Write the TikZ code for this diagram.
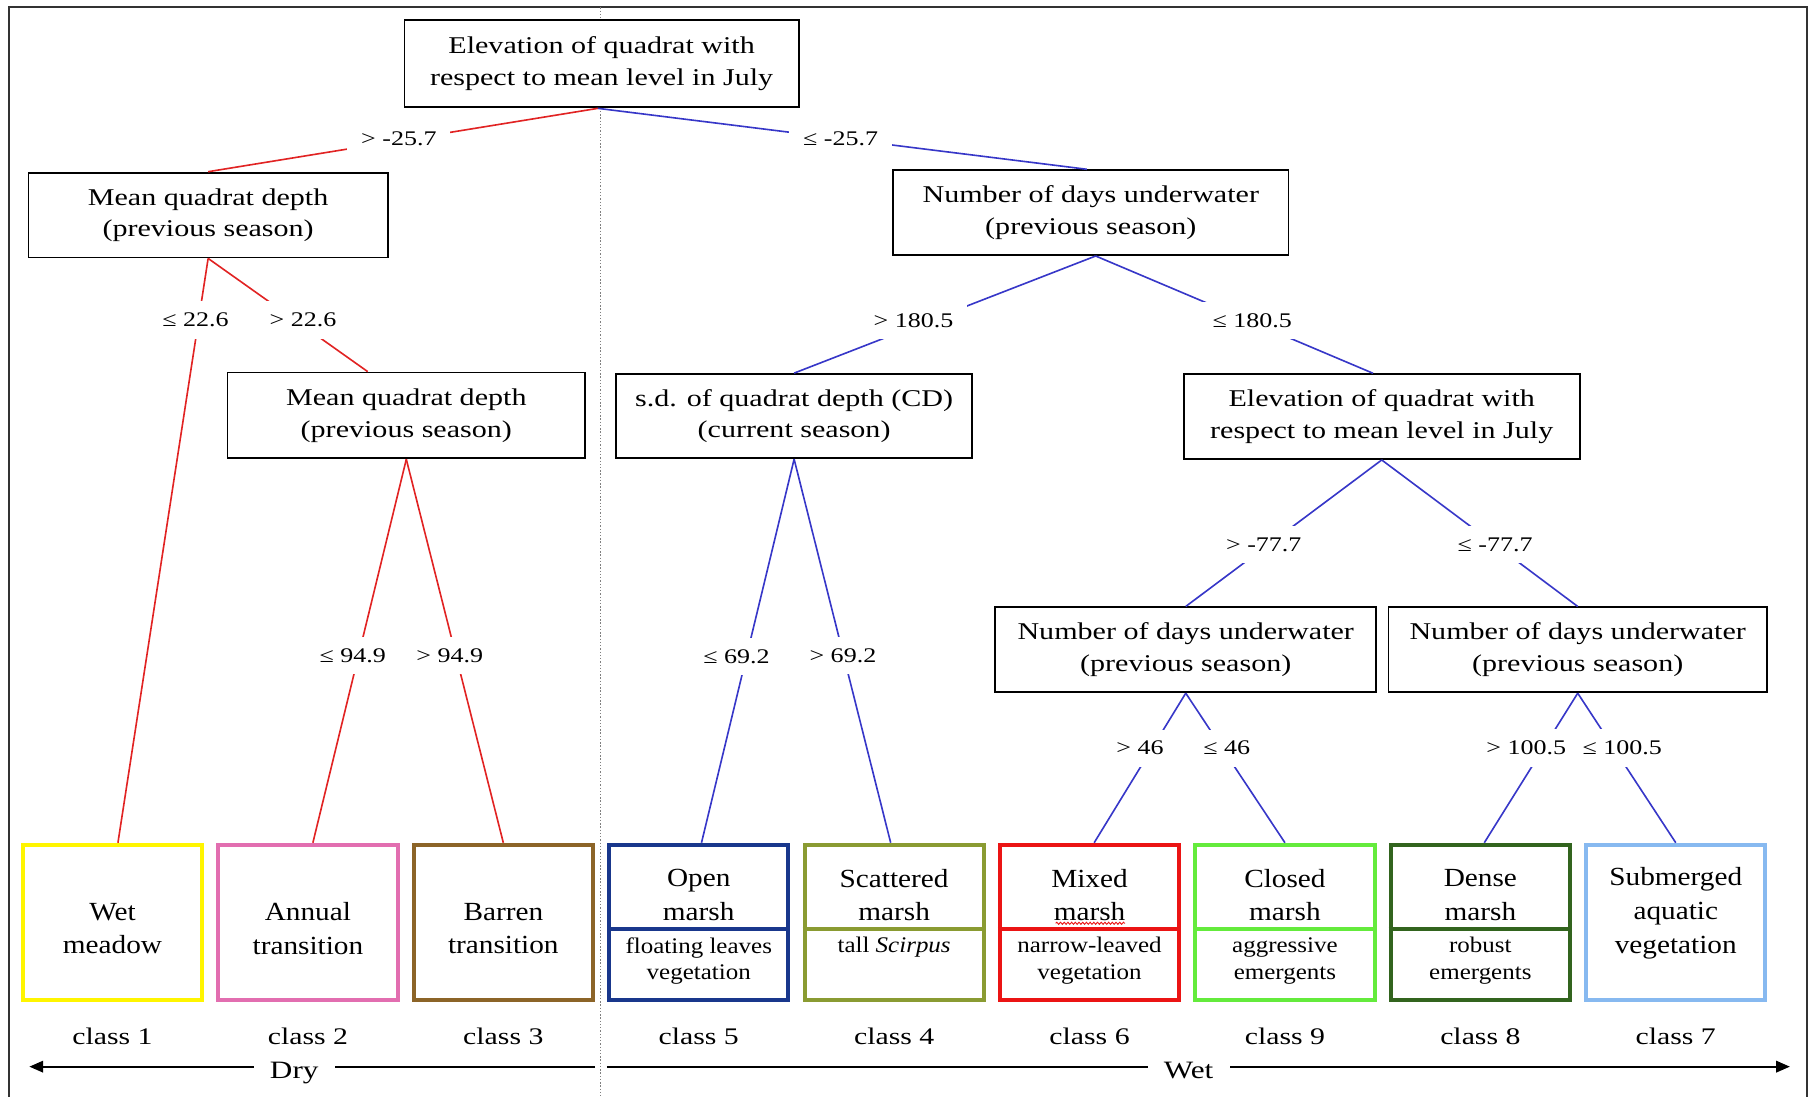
\documentclass[tikz,border=0pt]{standalone}
\usepackage{fontspec}
\setmainfont{Liberation Serif}
\newfontfamily\nf{Liberation Serif}[FakeStretch=1.25]
\newfontfamily\lf{Liberation Serif}[FakeStretch=1.12]
\usetikzlibrary{arrows.meta,decorations.pathmorphing}
\definecolor{redline}{RGB}{225,35,35}
\definecolor{blueline}{RGB}{55,55,200}
\definecolor{cYellow}{RGB}{255,245,0}
\definecolor{cPink}{RGB}{226,110,176}
\definecolor{cBrown}{RGB}{140,100,40}
\definecolor{cNavy}{RGB}{25,55,140}
\definecolor{cOlive}{RGB}{138,155,50}
\definecolor{cRed}{RGB}{235,20,20}
\definecolor{cGreen}{RGB}{100,235,60}
\definecolor{cDkGreen}{RGB}{50,100,30}
\definecolor{cLtBlue}{RGB}{135,185,240}
\tikzset{
 qbox/.style={draw=black, line width=0.8pt, fill=white, align=center, inner sep=0pt, font=\fontsize{10.4}{13.7}\nf},
 leafbox/.style={draw=#1, line width=1.75pt, minimum width=77.5pt, minimum height=67pt, inner sep=0pt},
 leaftxt/.style={align=center, inner sep=0pt, font=\fontsize{11.3}{14.6}\lf},
 subtxt/.style={align=center, inner sep=0pt, font=\fontsize{9.65}{11.5}\lf},
 divider/.style={draw=#1, line width=1.75pt},
 rcon/.style={draw=redline, line width=0.7pt},
 bcon/.style={draw=blueline, line width=0.7pt},
 cond/.style={fill=white, inner xsep=6pt, inner ysep=5pt, font=\fontsize{9}{11}\nf},
 classlbl/.style={inner sep=0pt, font=\fontsize{10.3}{12}\nf},
 axisline/.style={line width=0.85pt, -{Triangle[length=6pt,width=5pt]}},
 axislbl/.style={fill=white, inner xsep=7pt, inner ysep=2pt, anchor=base, font=\fontsize{10.8}{13}\nf},
}
\begin{document}
\begin{tikzpicture}[x=0.5pt,y=-0.5pt]
\useasboundingbox (0,0) rectangle (1568,948);
% frame and separator
\draw[line width=0.8pt, draw=black!80] (7.8,960) -- (7.8,6.3) -- (1563,6.3) -- (1563,960);
\draw[gray, line width=0.5pt, dash pattern=on 0.6pt off 0.8pt] (519.5,6.3) -- (519.5,960);

% decision nodes
\node[qbox, minimum width=170.5pt, minimum height=37.7pt] (root) at (520.3,55.2) {Elevation of quadrat with\\respect to mean level in July};
\node[qbox, minimum width=155.3pt, minimum height=36.7pt] (L1) at (180,186) {Mean quadrat depth\\(previous season)};
\node[qbox, minimum width=154.6pt, minimum height=37.1pt] (L2) at (351.4,359.3) {Mean quadrat depth\\(previous season)};
\node[qbox, minimum width=170.9pt, minimum height=36.7pt] (R1) at (943.4,183.9) {Number of days underwater\\(previous season)};
\node[qbox, minimum width=154pt, minimum height=36.4pt] (R2) at (686.8,359.9) {s.d. of quadrat depth (CD)\\(current season)};
\node[qbox, minimum width=171.2pt, minimum height=36.7pt] (R3) at (1195,360.3) {Elevation of quadrat with\\respect to mean level in July};
\node[qbox, minimum width=164.7pt, minimum height=36.7pt] (R4) at (1025.5,562) {Number of days underwater\\(previous season)};
\node[qbox, minimum width=163.7pt, minimum height=36.7pt] (R5) at (1364.5,562) {Number of days underwater\\(previous season)};

% leaf boxes
\node[leafbox=cYellow] (wm) at (97.3,797.6) {};
\node[leafbox=cPink] (at) at (266.3,797.6) {};
\node[leafbox=cBrown] (bt) at (435.3,797.6) {};
\node[leafbox=cNavy] (om) at (604.3,797.6) {};
\node[leafbox=cOlive] (sm) at (773.3,797.6) {};
\node[leafbox=cRed] (mm) at (942.3,797.6) {};
\node[leafbox=cGreen] (cm) at (1111.3,797.6) {};
\node[leafbox=cDkGreen] (dm) at (1280.3,797.6) {};
\node[leafbox=cLtBlue] (sav) at (1449.3,797.6) {};

\coordinate (divy) at (0,803.5);
\draw[divider=cNavy] (om.west |- divy) -- (om.east |- divy);
\draw[divider=cOlive] (sm.west |- divy) -- (sm.east |- divy);
\draw[divider=cRed] (mm.west |- divy) -- (mm.east |- divy);
\draw[divider=cGreen] (cm.west |- divy) -- (cm.east |- divy);
\draw[divider=cDkGreen] (dm.west |- divy) -- (dm.east |- divy);

% leaf texts
\node[leaftxt] (wmt) at (97.3,803) {Wet\\meadow};
\node[leaftxt] (att) at (266.3,803) {Annual\\transition};
\node[leaftxt] (btt) at (435.3,803) {Barren\\transition};
\node[leaftxt] (omt) at (604.3,774) {Open\\marsh};
\node[subtxt] (oms) at (604.3,831) {floating leaves\\vegetation};
\node[leaftxt] (smt) at (773.3,774) {Scattered\\marsh};
\node[subtxt] (sms) at (773.3,819) {tall \textit{Scirpus}};
\node[leaftxt] (mmt) at (942.3,774) {Mixed\\marsh};
\node[subtxt] (mms) at (942.3,831) {narrow-leaved\\vegetation};
\node[leaftxt] (cmt) at (1111.3,774) {Closed\\marsh};
\node[subtxt] (cms) at (1111.3,831) {aggressive\\emergents};
\node[leaftxt] (dmt) at (1280.3,774) {Dense\\marsh};
\node[subtxt] (dms) at (1280.3,831) {robust\\emergents};
\node[leaftxt] (savt) at (1449.3,790) {Submerged\\aquatic\\vegetation};
\draw[cRed, line width=0.4pt, decorate, decoration={snake, amplitude=0.45pt, segment length=1.6pt}] (913,798.5) -- (973,798.5);

% connectors
\draw[rcon] ([xshift=-1.6pt]root.south) -- (L1.north);
\draw[bcon] ([xshift=-1.6pt]root.south) -- ([xshift=-1.7pt]R1.north);
\draw[rcon] (L1.south) -- ([xshift=2.35pt]wm.north);
\draw[rcon] (L1.south) -- ([xshift=-16.7pt]L2.north);
\draw[rcon] (L2.south) -- ([xshift=2.15pt]at.north);
\draw[rcon] (L2.south) -- (bt.north);
\draw[bcon] ([xshift=2.1pt]R1.south) -- (R2.north);
\draw[bcon] ([xshift=2.1pt]R1.south) -- ([xshift=-3.8pt]R3.north);
\draw[bcon] (R2.south) -- ([xshift=1.2pt]om.north);
\draw[bcon] (R2.south) -- ([xshift=-1.5pt]sm.north);
\draw[bcon] (R3.south) -- (R4.north);
\draw[bcon] (R3.south) -- (R5.north);
\draw[bcon] (R4.south) -- ([xshift=2pt]mm.north);
\draw[bcon] (R4.south) -- (cm.north);
\draw[bcon] (R5.south) -- ([xshift=1.7pt]dm.north);
\draw[bcon] (R5.south) -- (sav.north);

% split conditions
\node[cond] (k1) at (345,119.6) {> -25.7};
\node[cond] (k2) at (727,119.6) {≤ -25.7};
\node[cond] (k3) at (169,276.8) {≤ 22.6};
\node[cond] (k4) at (262,276.8) {> 22.6};
\node[cond] (k5) at (790,277) {> 180.5};
\node[cond] (k6) at (1083,277) {≤ 180.5};
\node[cond] (k7) at (305,567) {≤ 94.9};
\node[cond] (k8) at (389,567) {> 94.9};
\node[cond] (k9) at (637,568) {≤ 69.2};
\node[cond] (k10) at (729,567) {> 69.2};
\node[cond] (k11) at (1093,471) {> -77.7};
\node[cond] (k12) at (1293,471) {≤ -77.7};
\node[cond] (k13) at (986,647) {> 46};
\node[cond] (k14) at (1061,647) {≤ 46};
\node[cond] (k15) at (1320,647) {> 100.5};
\node[cond] (k16) at (1403,647) {≤ 100.5};

% class labels
\node[classlbl] (n1) at (97.3,896.5) {class 1};
\node[classlbl] (n2) at (266.3,896.5) {class 2};
\node[classlbl] (n3) at (435.3,896.5) {class 3};
\node[classlbl] (n5) at (604.3,896.5) {class 5};
\node[classlbl] (n4) at (773.3,896.5) {class 4};
\node[classlbl] (n6) at (942.3,896.5) {class 6};
\node[classlbl] (n9) at (1111.3,896.5) {class 9};
\node[classlbl] (n8) at (1280.3,896.5) {class 8};
\node[classlbl] (n7) at (1449.3,896.5) {class 7};

% dry / wet axis
\coordinate (axL) at (514.8,922.5);
\coordinate (axR) at (524.8,922.5);
\coordinate (dryend) at (25.4,922.5);
\coordinate (wetend) at (1548,922.5);
\draw[axisline] (axL) -- (dryend);
\draw[axisline] (axR) -- (wetend);
\node[axislbl] (dry) at (254.5,932.4) {Dry};
\node[axislbl] (wet) at (1028,932.4) {Wet};
\end{tikzpicture}
\end{document}
